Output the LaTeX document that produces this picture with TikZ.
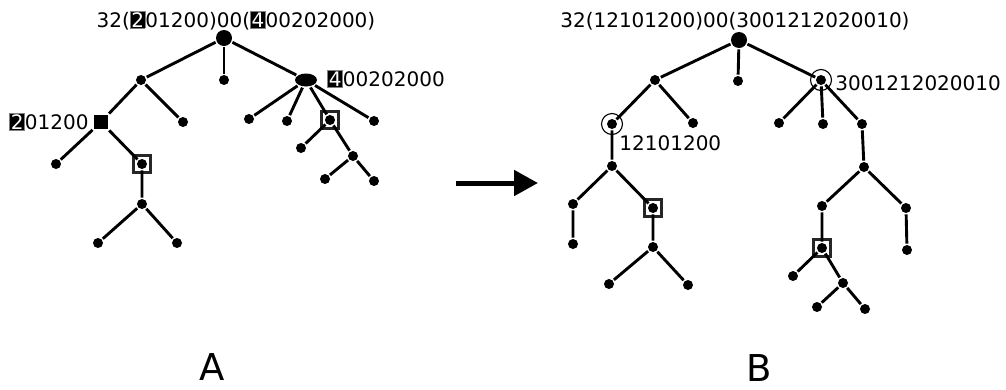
\documentclass[tikz,border=0pt]{standalone}
\usepackage{fontspec}
\setmainfont{DejaVu Sans}
\usepackage{tikz}
\usetikzlibrary{shapes.geometric}
\usetikzlibrary{arrows.meta}
\newcommand{\hilite}[1]{{\setlength{\fboxsep}{0.6pt}\setlength{\fboxrule}{0.8pt}\fcolorbox{gray}{black}{\textcolor{white}{#1}}}}

\begin{document}
\begin{tikzpicture}[x=1pt,y=-1pt,line width=2.9pt,
	dot/.style={circle,fill=black,inner sep=0pt,minimum size=10pt},
	bigdot/.style={circle,fill=black,inner sep=0pt,minimum size=16pt},
	sq/.style={draw=black!85,line width=2.3pt,inner sep=0pt,minimum size=17pt},
	ring/.style={draw,circle,line width=1.1pt,inner sep=0pt,minimum size=21pt},
	lab/.style={inner sep=0pt,font=\fontsize{20}{24}\selectfont}]
	\useasboundingbox (0,0) rectangle (1006,389);
	% tree A
	\node[bigdot] (r) at (224,38) {};
	\node[dot] (a1) at (141,80) {};
	\node[dot] (a2) at (224,80) {};
	\node[ellipse,fill=black,inner sep=0pt,minimum width=22pt,minimum height=13pt] (a3) at (306,80) {};
	\node[fill=black,inner sep=0pt,minimum size=14pt] (a4) at (101,122) {};
	\node[dot] (a5) at (183,122) {};
	\node[dot] (a6) at (56,164) {};
	\node[dot] (a7) at (142,164) {};
	\node[dot] (a8) at (142,204) {};
	\node[dot] (a9) at (98,243) {};
	\node[dot] (a10) at (177,243) {};
	\node[dot] (a11) at (249,119) {};
	\node[dot] (a12) at (287,121) {};
	\node[dot] (a13) at (330,120) {};
	\node[dot] (a14) at (374,121) {};
	\node[dot] (a15) at (301,148) {};
	\node[dot] (a16) at (353,156) {};
	\node[dot] (a17) at (325,179) {};
	\node[dot] (a18) at (374,181) {};
	\node[sq] (qa1) at (a7) {};
	\node[sq] (qa2) at (a13) {};
	\draw (a1)--(r)--(a3);
	\draw (r)--(a2);
	\draw (a5)--(a1)--(a4)--(a6);
	\draw (a4)--(a7)--(a8)--(a9);
	\draw (a8)--(a10);
	\draw (a11)--(a3)--(a12);
	\draw (a13)--(a3)--(a14);
	\draw (a15)--(a13)--(a16)--(a17);
	\draw (a16)--(a18);
	\node[lab,anchor=base] (ta) at (236,27) {32(\hilite{2}01200)00(\hilite{4}00202000)};
	\node[lab,anchor=base east] (ta1) at (90,129) {\hilite{2}01200};
	\node[lab,anchor=base west] (ta2) at (326,86) {\hilite{4}00202000};
	\node[font=\fontsize{37}{40}\selectfont,anchor=base] (la) at (212,380) {A};
	% arrow
	\coordinate (p1) at (456,183);
	\coordinate (p2) at (538,183);
	\draw[line width=5pt,-{Triangle[length=24pt,width=25pt]}] (p1)--(p2);
	% tree B
	\node[bigdot] (R) at (739,40) {};
	\node[dot] (b1) at (655,80) {};
	\node[dot] (b2) at (738,81) {};
	\node[dot] (b3) at (821,80) {};
	\node[dot] (b4) at (612,124) {};
	\node[dot] (b5) at (693,123) {};
	\node[dot] (b6) at (779,123) {};
	\node[dot] (b7) at (823,124) {};
	\node[dot] (b8) at (862,124) {};
	\node[dot] (b9) at (612,166) {};
	\node[dot] (b10) at (573,204) {};
	\node[dot] (b11) at (653,208) {};
	\node[dot] (b12) at (573,244) {};
	\node[dot] (b13) at (653,247) {};
	\node[dot] (b14) at (609,284) {};
	\node[dot] (b15) at (688,285) {};
	\node[dot] (b16) at (864,167) {};
	\node[dot] (b17) at (822,206) {};
	\node[dot] (b18) at (906,208) {};
	\node[dot] (b19) at (907,250) {};
	\node[dot] (b20) at (822,248) {};
	\node[dot] (b21) at (793,276) {};
	\node[dot] (b22) at (843,283) {};
	\node[dot] (b23) at (817,307) {};
	\node[dot] (b24) at (865,309) {};
	\node[ring] (cb1) at (b3) {};
	\node[ring] (cb2) at (b4) {};
	\node[sq] (qb1) at (b11) {};
	\node[sq] (qb2) at (b20) {};
	\draw (b1)--(R)--(b3);
	\draw (R)--(b2);
	\draw (b5)--(b1)--(b4)--(b9)--(b10)--(b12);
	\draw (b9)--(b11)--(b13)--(b14);
	\draw (b13)--(b15);
	\draw (b6)--(b3)--(b7);
	\draw (b3)--(b8)--(b16)--(b18)--(b19);
	\draw (b16)--(b17)--(b20)--(b21);
	\draw (b20)--(b22)--(b23);
	\draw (b22)--(b24);
	\node[lab,anchor=base] (tb) at (735,27) {32(12101200)00(3001212020010)};
	\node[lab,anchor=base west] (tb1) at (834,90) {3001212020010};
	\node[lab,anchor=base west] (tb2) at (618,150) {12101200};
	\node[font=\fontsize{37}{40}\selectfont,anchor=base] (lb) at (759,381) {B};
\end{tikzpicture}
\end{document}
